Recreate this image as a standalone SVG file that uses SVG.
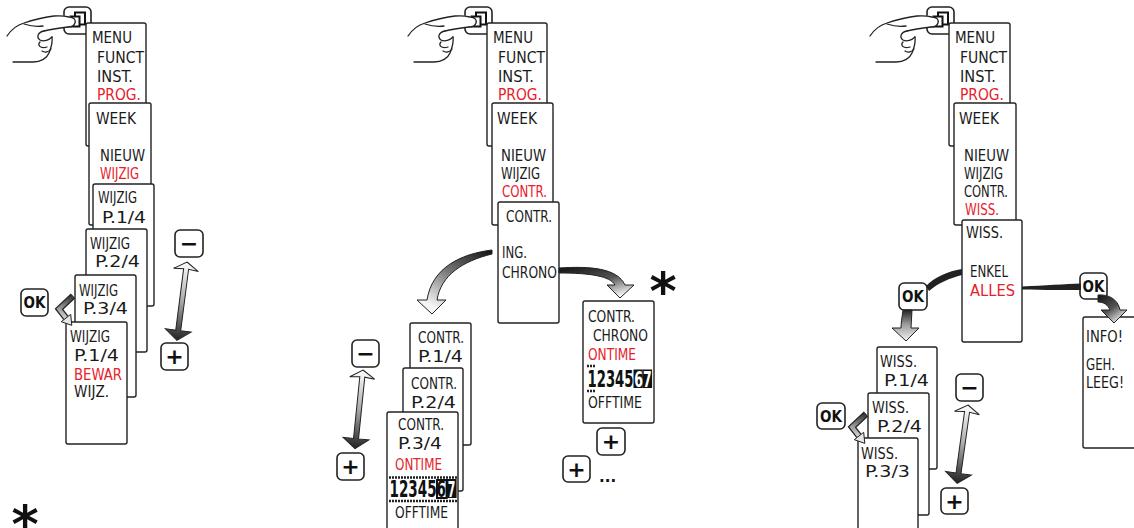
<svg xmlns="http://www.w3.org/2000/svg" width="1134" height="528" viewBox="0 0 1134 528">
<style>
.scr{fill:#fff;stroke:#222;stroke-width:1.4}
.t{font-family:'DejaVu Sans Condensed','DejaVu Sans',sans-serif;font-stretch:condensed;font-size:15px;fill:#1a1a1a}
.r{fill:#e8202a}
.btn{fill:#fff;stroke:#222;stroke-width:1.6}
.bt{font-family:'DejaVu Sans Condensed','DejaVu Sans',sans-serif;font-stretch:condensed;font-weight:bold;font-size:15px;fill:#111;text-anchor:middle}
.sym{font-family:'DejaVu Sans',sans-serif;font-weight:bold;font-size:22px;fill:#111;text-anchor:middle}
.hand{fill:none;stroke:#222;stroke-width:1.3;stroke-linecap:round}
.ast{font-family:'DejaVu Sans',sans-serif;font-weight:bold;font-size:52px;fill:#111;text-anchor:middle}
.dig{font-family:'DejaVu Sans Condensed','DejaVu Sans',sans-serif;font-stretch:condensed;font-weight:bold;font-size:15px;fill:#111}
.dash{stroke:#222;stroke-width:2.5;stroke-dasharray:2 1}
.da{fill:url(#gDA);stroke:#222;stroke-width:1}
.sh{stroke:#222;stroke-width:1}
</style>
<defs>
<linearGradient id="gDA" x1="0" y1="0" x2="0" y2="1">
<stop offset="0" stop-color="#fff"/><stop offset="0.5" stop-color="#aaa"/><stop offset="1" stop-color="#222"/>
</linearGradient>
<linearGradient id="gDown" x1="0" y1="0" x2="0" y2="1">
<stop offset="0" stop-color="#222"/><stop offset="0.45" stop-color="#999"/><stop offset="1" stop-color="#f4f4f4"/>
</linearGradient>
<linearGradient id="gCurveL" x1="1" y1="0" x2="0.4" y2="1">
<stop offset="0" stop-color="#111"/><stop offset="0.5" stop-color="#777"/><stop offset="1" stop-color="#f6f6f6"/>
</linearGradient>
<linearGradient id="gCurveR" x1="0" y1="0" x2="0.7" y2="1">
<stop offset="0" stop-color="#111"/><stop offset="0.55" stop-color="#555"/><stop offset="1" stop-color="#f4f4f4"/>
</linearGradient>
<linearGradient id="gBend" gradientUnits="userSpaceOnUse" x1="72" y1="296" x2="66" y2="320">
<stop offset="0" stop-color="#333"/><stop offset="1" stop-color="#ddd"/>
</linearGradient>
<g id="handIcon">
<rect x="64" y="7" width="27" height="27" rx="5" class="btn"/>
<rect x="75" y="12.5" width="10" height="12" fill="none" stroke="#111" stroke-width="2"/>
<rect x="70.5" y="16.5" width="9" height="10" fill="#fff" stroke="#111" stroke-width="2"/>
<path d="M58,16 C66,15 74,16 75,22 C75,26 71,27 66,27.5 L58,29 Z" fill="#fff"/>
<path class="hand" d="M7,36 C11,30 17,25 24,23 C33,20 44,17 54,16 C60,15.5 65,16 69,17 C74,17 76,20 75,23 C74,26 71,27 68,27"/>
<path class="hand" d="M44,31 C52,29 60,28 68,27"/>
<path class="hand" d="M24,24 C30,26 37,27 43,26"/>
<path class="hand" d="M44,31 C38,32 36,37 40,40 C44,42 49,40 52,37"/>
<path class="hand" d="M40,42 C37,45 40,49 47,47"/>
<path class="hand" d="M42,51 C45,53 49,52 51,49"/>
<path class="hand" d="M13,62 L33,62 C41,62 47,58 49,53 C51,48 53,43 52,37"/>
</g>
<g id="bend">
<path d="M73,296 L59,309 L66,318" fill="none" stroke="#222" stroke-width="6.5"/>
<path d="M73,296 L59,309 L66,318" fill="none" stroke="url(#gBend)" stroke-width="4"/>
<polygon points="61.3,321.7 70.7,314.3 71.8,325.4" fill="#e6e6e6" stroke="#222" stroke-width="1"/>
</g>
</defs>

<!-- LEFT COLUMN -->
<g id="hand-left"><use href="#handIcon"/></g>
<g id="l-menu">
<rect class="scr" x="86" y="23" width="60" height="123" rx="2"/>
<text class="t" x="92" y="43" textLength="40" lengthAdjust="spacingAndGlyphs">MENU</text>
<text class="t" x="97" y="63" textLength="47" lengthAdjust="spacingAndGlyphs">FUNCT</text>
<text class="t" x="97" y="82" textLength="36" lengthAdjust="spacingAndGlyphs">INST.</text>
<text class="t r" x="97" y="100" textLength="44" lengthAdjust="spacingAndGlyphs">PROG.</text>
</g>
<g id="l-week">
<rect class="scr" x="89" y="103" width="62" height="122" rx="2"/>
<text class="t" x="96" y="124" textLength="40" lengthAdjust="spacingAndGlyphs">WEEK</text>
<text class="t" x="100" y="161" textLength="45" lengthAdjust="spacingAndGlyphs">NIEUW</text>
<text class="t r" x="100" y="179" textLength="39" lengthAdjust="spacingAndGlyphs">WIJZIG</text>
</g>
<g id="l-p1">
<rect class="scr" x="93" y="184" width="61" height="122" rx="2"/>
<text class="t" x="98" y="203" textLength="39" lengthAdjust="spacingAndGlyphs">WIJZIG</text>
<text class="t" x="102" y="223" textLength="44" lengthAdjust="spacingAndGlyphs">P.1/4</text>
</g>
<g id="l-p2">
<rect class="scr" x="86" y="229" width="61" height="123" rx="2"/>
<text class="t" x="90" y="249" textLength="40" lengthAdjust="spacingAndGlyphs">WIJZIG</text>
<text class="t" x="95" y="267" textLength="45" lengthAdjust="spacingAndGlyphs">P.2/4</text>
</g>
<g id="l-p3">
<rect class="scr" x="75" y="275" width="61" height="122" rx="2"/>
<text class="t" x="79" y="296" textLength="39" lengthAdjust="spacingAndGlyphs">WIJZIG</text>
<text class="t" x="83" y="314" textLength="45" lengthAdjust="spacingAndGlyphs">P.3/4</text>
</g>
<g id="l-save">
<rect class="scr" x="66" y="322" width="61" height="122" rx="2"/>
<text class="t" x="70" y="342" textLength="40" lengthAdjust="spacingAndGlyphs">WIJZIG</text>
<text class="t" x="74" y="361" textLength="45" lengthAdjust="spacingAndGlyphs">P.1/4</text>
<text class="t r" x="74" y="380" textLength="48" lengthAdjust="spacingAndGlyphs">BEWAR</text>
<text class="t" x="74" y="397" textLength="35" lengthAdjust="spacingAndGlyphs">WIJZ.</text>
</g>
<g id="l-ok"><rect class="btn" x="21" y="289" width="27" height="27" rx="5"/><text class="bt" x="34.5" y="308">OK</text></g>
<g id="l-minus"><rect class="btn" x="175" y="230" width="28" height="27" rx="5"/><text class="sym" x="189" y="251">−</text></g>
<g id="l-plus"><rect class="btn" x="161" y="343" width="27" height="27" rx="5"/><text class="sym" x="174.5" y="364">+</text></g>
<g id="l-star"><text class="ast" x="25" y="542">*</text></g>

<!-- MIDDLE COLUMN -->
<g id="hand-mid"><use href="#handIcon" transform="translate(401,0)"/></g>
<g id="m-menu">
<rect class="scr" x="487" y="23" width="60" height="123" rx="2"/>
<text class="t" x="493" y="43" textLength="40" lengthAdjust="spacingAndGlyphs">MENU</text>
<text class="t" x="498" y="63" textLength="47" lengthAdjust="spacingAndGlyphs">FUNCT</text>
<text class="t" x="498" y="82" textLength="36" lengthAdjust="spacingAndGlyphs">INST.</text>
<text class="t r" x="498" y="100" textLength="44" lengthAdjust="spacingAndGlyphs">PROG.</text>
</g>
<g id="m-week">
<rect class="scr" x="492" y="103" width="61" height="122" rx="2"/>
<text class="t" x="497" y="124" textLength="40" lengthAdjust="spacingAndGlyphs">WEEK</text>
<text class="t" x="501" y="161" textLength="45" lengthAdjust="spacingAndGlyphs">NIEUW</text>
<text class="t" x="501" y="179" textLength="39" lengthAdjust="spacingAndGlyphs">WIJZIG</text>
<text class="t r" x="502" y="197" textLength="45" lengthAdjust="spacingAndGlyphs">CONTR.</text>
</g>
<g id="m-contr">
<rect class="scr" x="498" y="202" width="61" height="121" rx="2"/>
<text class="t" x="506" y="222" textLength="46" lengthAdjust="spacingAndGlyphs">CONTR.</text>
<text class="t" x="502" y="258" textLength="25" lengthAdjust="spacingAndGlyphs">ING.</text>
<text class="t" x="502" y="278" textLength="55" lengthAdjust="spacingAndGlyphs">CHRONO</text>
</g>
<g id="m-chrono">
<rect class="scr" x="583" y="301" width="71" height="122" rx="2"/>
<text class="t" x="588" y="322" textLength="47" lengthAdjust="spacingAndGlyphs">CONTR.</text>
<text class="t" x="593" y="341" textLength="55" lengthAdjust="spacingAndGlyphs">CHRONO</text>
<text class="t r" x="588" y="360" textLength="48" lengthAdjust="spacingAndGlyphs">ONTIME</text>
<line class="dash" x1="587" y1="366" x2="595" y2="366"/>
<line class="dash" x1="587" y1="391" x2="595" y2="391"/>
<rect x="633.5" y="369.5" width="9.3" height="18.5" fill="#111"/>
<rect x="642.8" y="369.5" width="9.3" height="18.5" fill="#111"/>
<text class="dig" transform="translate(587.5,387) scale(1,1.5)" textLength="46" lengthAdjust="spacingAndGlyphs">12345</text>
<text class="dig" transform="translate(634.2,386.5) scale(1,1.45)" textLength="17.5" lengthAdjust="spacingAndGlyphs" style="fill:#fff">67</text>
<text class="t" x="588" y="408" textLength="54" lengthAdjust="spacingAndGlyphs">OFFTIME</text>
</g>
<g id="m-p1">
<rect class="scr" x="410" y="323" width="61" height="122" rx="2"/>
<text class="t" x="418" y="343" textLength="46" lengthAdjust="spacingAndGlyphs">CONTR.</text>
<text class="t" x="418" y="362" textLength="45" lengthAdjust="spacingAndGlyphs">P.1/4</text>
</g>
<g id="m-p2">
<rect class="scr" x="403" y="368" width="60" height="123" rx="2"/>
<text class="t" x="411" y="389" textLength="46" lengthAdjust="spacingAndGlyphs">CONTR.</text>
<text class="t" x="411" y="408" textLength="45" lengthAdjust="spacingAndGlyphs">P.2/4</text>
</g>
<g id="m-p3">
<rect class="scr" x="387" y="412" width="71" height="130" rx="2"/>
<text class="t" x="398" y="430" textLength="46" lengthAdjust="spacingAndGlyphs">CONTR.</text>
<text class="t" x="398" y="449" textLength="44" lengthAdjust="spacingAndGlyphs">P.3/4</text>
<text class="t r" x="395" y="470" textLength="47" lengthAdjust="spacingAndGlyphs">ONTIME</text>
<line class="dash" x1="389" y1="477.5" x2="457" y2="477.5"/>
<line class="dash" x1="389" y1="501" x2="457" y2="501"/>
<rect x="437" y="480" width="9.6" height="18" fill="#fff" stroke="#111" stroke-width="2"/>
<rect x="446.6" y="479" width="10" height="19" fill="#111"/>
<text class="dig" transform="translate(389.5,497) scale(1,1.5)" textLength="56.5" lengthAdjust="spacingAndGlyphs">123456</text>
<text class="dig" transform="translate(447.8,496.5) scale(1,1.45)" textLength="7.6" lengthAdjust="spacingAndGlyphs" style="fill:#fff">7</text>
<text class="t" x="395" y="518" textLength="53" lengthAdjust="spacingAndGlyphs">OFFTIME</text>
</g>
<g id="m-minus"><rect class="btn" x="352" y="340" width="27" height="27" rx="5"/><text class="sym" x="365.5" y="361">−</text></g>
<g id="m-plus"><rect class="btn" x="337" y="453" width="27" height="27" rx="5"/><text class="sym" x="350.5" y="474">+</text></g>
<g id="m-plus2"><rect class="btn" x="597" y="428" width="28" height="27" rx="5"/><text class="sym" x="611" y="449">+</text></g>
<g id="m-plus3"><rect class="btn" x="563" y="456" width="27" height="26" rx="5"/><text class="sym" x="576.5" y="476.5">+</text>
<text x="599" y="482" style="font-family:'DejaVu Sans',sans-serif;font-weight:bold;font-size:15px;fill:#111">...</text></g>
<g id="m-star"><text class="ast" x="663" y="309">*</text></g>

<!-- RIGHT COLUMN -->
<g id="hand-right"><use href="#handIcon" transform="translate(863,0)"/></g>
<g id="r-menu">
<rect class="scr" x="949" y="23" width="61" height="123" rx="2"/>
<text class="t" x="955" y="43" textLength="40" lengthAdjust="spacingAndGlyphs">MENU</text>
<text class="t" x="960" y="63" textLength="47" lengthAdjust="spacingAndGlyphs">FUNCT</text>
<text class="t" x="960" y="82" textLength="36" lengthAdjust="spacingAndGlyphs">INST.</text>
<text class="t r" x="960" y="100" textLength="44" lengthAdjust="spacingAndGlyphs">PROG.</text>
</g>
<g id="r-week">
<rect class="scr" x="954" y="103" width="62" height="122" rx="2"/>
<text class="t" x="959" y="124" textLength="40" lengthAdjust="spacingAndGlyphs">WEEK</text>
<text class="t" x="964" y="161" textLength="45" lengthAdjust="spacingAndGlyphs">NIEUW</text>
<text class="t" x="964" y="179" textLength="39" lengthAdjust="spacingAndGlyphs">WIJZIG</text>
<text class="t" x="964" y="197" textLength="44" lengthAdjust="spacingAndGlyphs">CONTR.</text>
<text class="t r" x="965" y="215" textLength="34" lengthAdjust="spacingAndGlyphs">WISS.</text>
</g>
<g id="r-wiss">
<rect class="scr" x="962" y="220" width="60" height="122" rx="2"/>
<text class="t" x="966" y="238" textLength="37" lengthAdjust="spacingAndGlyphs">WISS.</text>
<text class="t" x="970" y="277" textLength="38" lengthAdjust="spacingAndGlyphs">ENKEL</text>
<text class="t r" x="970" y="296" textLength="45" lengthAdjust="spacingAndGlyphs">ALLES</text>
</g>
<g id="r-info">
<rect class="scr" x="1083" y="317" width="70" height="131" rx="2"/>
<text class="t" x="1086" y="342" textLength="37" lengthAdjust="spacingAndGlyphs">INFO!</text>
<text class="t" x="1086" y="370" textLength="29" lengthAdjust="spacingAndGlyphs">GEH.</text>
<text class="t" x="1086" y="388" textLength="38" lengthAdjust="spacingAndGlyphs">LEEG!</text>
</g>
<g id="r-p1">
<rect class="scr" x="877" y="347" width="60" height="122" rx="2"/>
<text class="t" x="880" y="367" textLength="37" lengthAdjust="spacingAndGlyphs">WISS.</text>
<text class="t" x="884" y="386" textLength="45" lengthAdjust="spacingAndGlyphs">P.1/4</text>
</g>
<g id="r-p2">
<rect class="scr" x="868" y="393" width="61" height="122" rx="2"/>
<text class="t" x="872" y="413" textLength="37" lengthAdjust="spacingAndGlyphs">WISS.</text>
<text class="t" x="877" y="432" textLength="45" lengthAdjust="spacingAndGlyphs">P.2/4</text>
</g>
<g id="r-p3">
<rect class="scr" x="858" y="438" width="60" height="100" rx="2"/>
<text class="t" x="861" y="459" textLength="37" lengthAdjust="spacingAndGlyphs">WISS.</text>
<text class="t" x="865" y="477" textLength="45" lengthAdjust="spacingAndGlyphs">P.3/3</text>
</g>
<g id="r-ok1"><rect class="btn" x="899" y="283" width="28" height="27" rx="5"/><text class="bt" x="913" y="302">OK</text></g>
<g id="r-ok2"><rect class="btn" x="1080" y="273" width="27" height="26" rx="5"/><text class="bt" x="1093.5" y="291.5">OK</text></g>
<g id="r-ok3"><rect class="btn" x="817" y="403" width="28" height="26" rx="5"/><text class="bt" x="831" y="421.5">OK</text></g>
<g id="r-minus"><rect class="btn" x="956" y="374" width="27" height="27" rx="5"/><text class="sym" x="969.5" y="395">−</text></g>
<g id="r-plus"><rect class="btn" x="941" y="488" width="27" height="26" rx="5"/><text class="sym" x="954.5" y="508.5">+</text></g>

<!-- CONNECTORS -->
<g id="connectors">
<use href="#bend"/>
<use href="#bend" transform="translate(793,118)"/>
<path class="da" transform="translate(187,262) rotate(7.3)" d="M0,0 L12.5,8 L2.5,7 L2.5,69 L13,69 L0,79 L-13,69 L-2.5,69 L-2.5,7 L-12.5,8 Z"/>
<path class="da" transform="translate(363,370) rotate(5.8)" d="M0,0 L12.5,8 L2.5,7 L2.5,69 L13,69 L0,79 L-13,69 L-2.5,69 L-2.5,7 L-12.5,8 Z"/>
<path class="da" transform="translate(968,405) rotate(7.9)" d="M0,0 L12.5,8 L2.5,7 L2.5,69 L13,69 L0,79 L-13,69 L-2.5,69 L-2.5,7 L-12.5,8 Z"/>
<path class="sh" fill="url(#gCurveL)" d="M492,250 C460,254 432,268 427,300 L417,300 L432,314 L446,300 L437,300 C441,275 463,261 492,254 Z"/>
<path class="sh" fill="url(#gCurveR)" d="M559,268 C590,266 617,268 625,285 L634,285 L620,298 L607,285 L615,285 C610,276 590,273 559,273 Z"/>
<path fill="#222" d="M962,269 C948,271 935,277 926,286 L929,291 C938,283 950,278 962,275 Z"/>
<path class="sh" fill="url(#gDown)" d="M903,310 C902,318 901,323 901,328 L892,328 L906,341 L919,328 L911,328 C911,322 912,316 912,310 Z"/>
<path fill="#222" d="M1022,286.5 C1045,285.5 1065,284 1081,283.5 L1081,290 C1065,290 1045,290 1022,289.5 Z"/>
<path class="sh" fill="url(#gCurveR)" d="M1098,295 C1108,294 1118,299 1120,310 L1127,310 L1114,323 L1101,310 L1110,310 C1108,305 1104,302 1098,302 Z"/>
</g>
</svg>
